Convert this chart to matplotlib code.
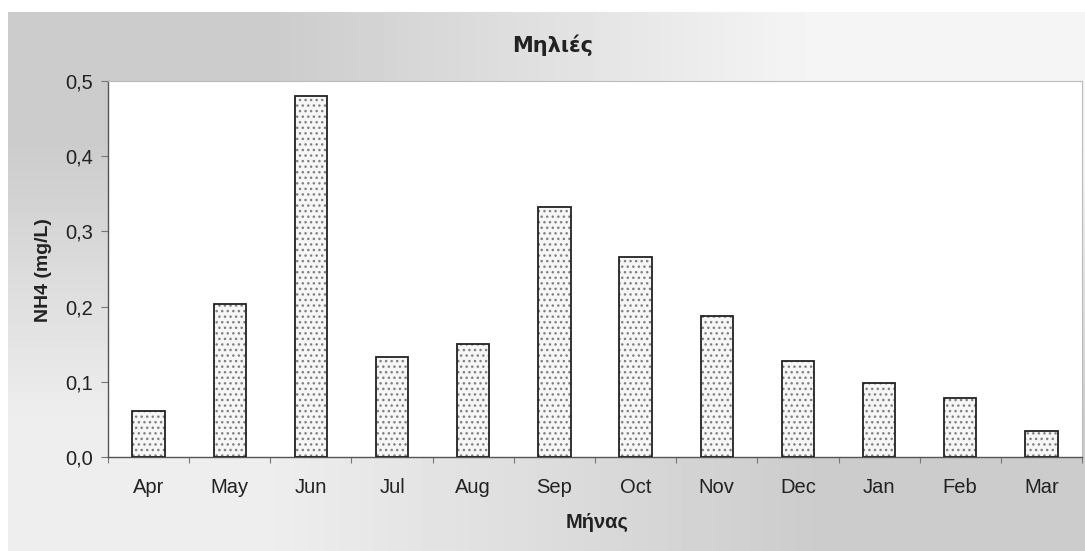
import numpy as np
import matplotlib
matplotlib.use('Agg')
import matplotlib.pyplot as plt
from matplotlib.ticker import FuncFormatter, FixedLocator

# Data
months = ['Apr', 'May', 'Jun', 'Jul', 'Aug', 'Sep', 'Oct', 'Nov', 'Dec', 'Jan', 'Feb', 'Mar']
nh4 = [0.061, 0.204, 0.480, 0.133, 0.150, 0.332, 0.266, 0.187, 0.128, 0.099, 0.078, 0.035]
title = 'Μηλιές'
xlabel = 'Μήνας'
ylabel = 'NH4 (mg/L)'

plt.rcParams['font.family'] = ['Liberation Sans', 'DejaVu Sans']
plt.rcParams['hatch.linewidth'] = 1.0

W, H = 1085, 551
fig = plt.figure(figsize=(W / 100, H / 100), dpi=100)
fig.patch.set_facecolor('white')

# scanned gray chart background with uneven shading
bg = fig.add_axes([8 / W, 0, 1 - 8 / W, 1 - 12 / H], zorder=-5)
shade = np.array([[0.80, 0.96], [0.93, 0.80]])
bg.imshow(shade, cmap='gray', vmin=0, vmax=1, interpolation='bilinear',
          aspect='auto', extent=[0, 1, 0, 1])
bg.set_axis_off()

ax = fig.add_axes([108 / W, 1 - 457 / H, (1082 - 108) / W, (457 - 81) / H])
ax.set_facecolor('white')

x = np.arange(len(months))
# dotted fill, then black outline on top
ax.bar(x, nh4, width=0.4, color='#f6f6f6', edgecolor='#808080', hatch='...',
       linewidth=0, zorder=2)
ax.bar(x, nh4, width=0.4, fill=False, edgecolor='#222222', linewidth=1.3, zorder=3)

ax.set_xlim(-0.5, len(months) - 0.5)
ax.set_ylim(0, 0.5)
ax.set_yticks(np.arange(0, 0.51, 0.1))
ax.yaxis.set_major_formatter(FuncFormatter(lambda v, p: f'{v:.1f}'.replace('.', ',')))
ax.set_xticks(x)
ax.set_xticklabels(months)
ax.xaxis.set_minor_locator(FixedLocator(np.arange(-0.5, len(months), 1)))
ax.tick_params(axis='x', which='major', length=0, pad=15, labelsize=14.5, colors='#222222')
ax.tick_params(axis='x', which='minor', length=4, width=0.8, color='#777777')
ax.tick_params(axis='y', length=5, width=0.8, color='#777777', labelsize=14.5,
               labelcolor='#222222', pad=6)

for side in ['top', 'right']:
    ax.spines[side].set_color('#bbbbbb')
    ax.spines[side].set_linewidth(0.8)
for side in ['left', 'bottom']:
    ax.spines[side].set_color('#555555')
    ax.spines[side].set_linewidth(1.0)

fig.text(553 / W, 1 - 45 / H, title, ha='center', va='center',
         fontsize=15, fontweight='bold', color='#222222', family='DejaVu Sans')
fig.text(597 / W, 1 - 522 / H, xlabel, ha='center', va='center',
         fontsize=14.5, fontweight='bold', color='#222222')
fig.text(43 / W, 1 - 270 / H, ylabel, ha='center', va='center', rotation=90,
         fontsize=14, fontweight='bold', color='#222222')

fig.savefig('out.png', dpi=100)
